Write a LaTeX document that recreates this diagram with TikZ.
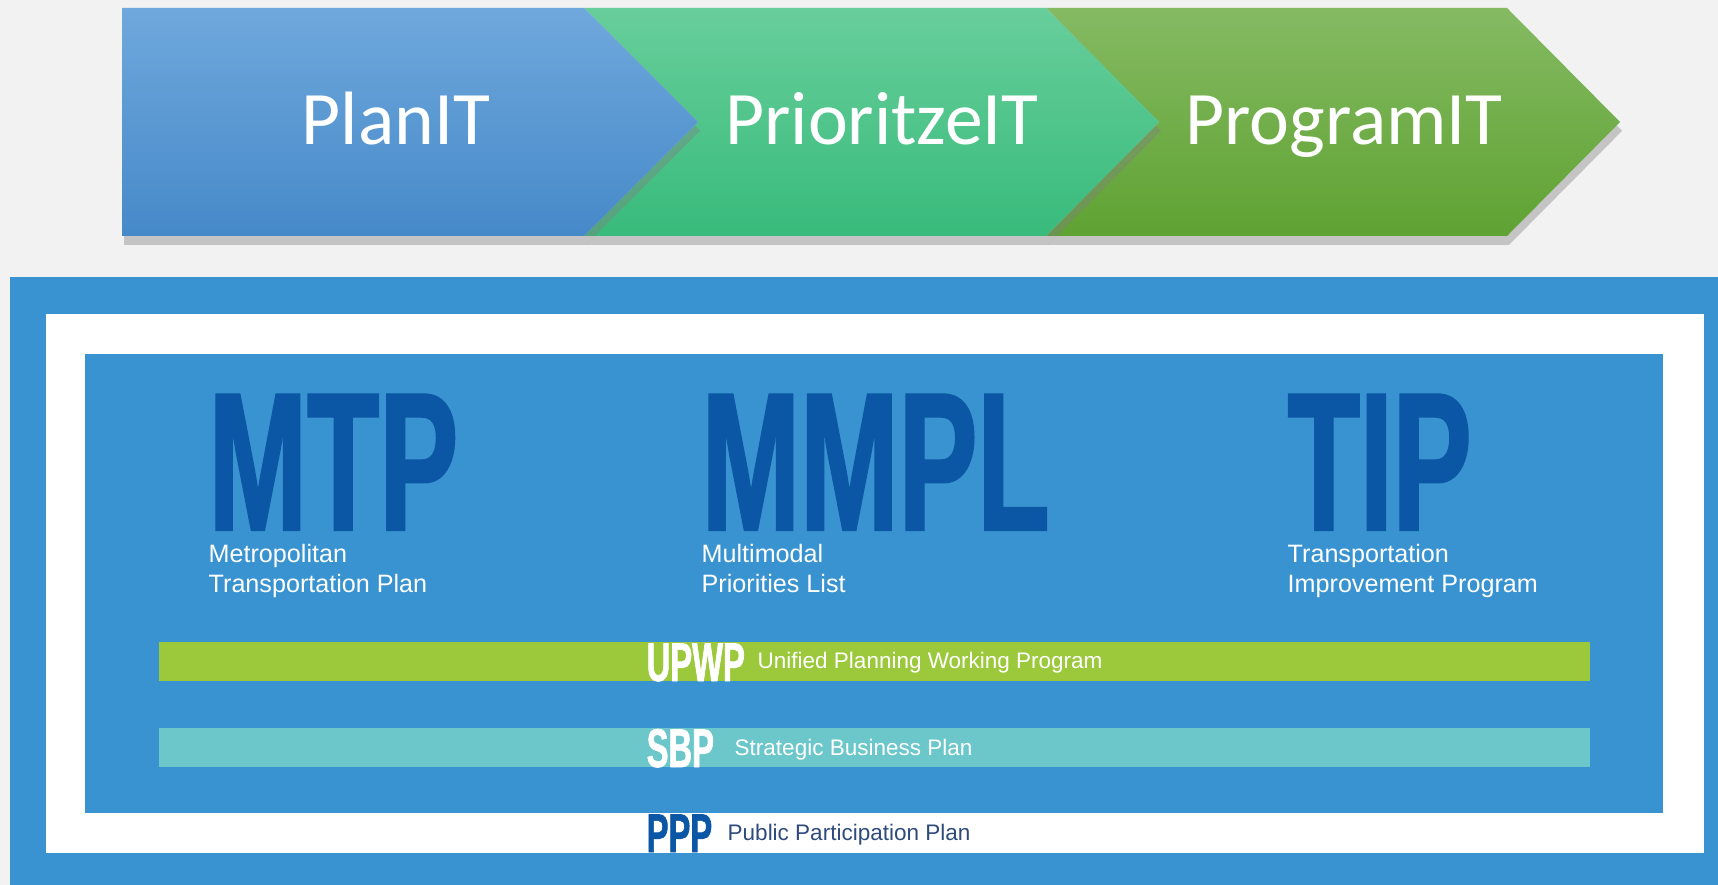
\documentclass[tikz,border=0pt]{standalone}
\usepackage{fontspec}
\usepackage{tikz}
\usetikzlibrary{shadows}
\newfontfamily\chevfont{Carlito}
\newfontfamily\condfont[FakeStretch=0.6,FakeBold=1.2]{Liberation Sans}
\newfontfamily\subfont{Liberation Sans}
\definecolor{pagegray}{HTML}{F2F2F2}
\definecolor{panelblue}{HTML}{3993D0}
\definecolor{inkblue}{HTML}{0B57A5}
\definecolor{pppgray}{HTML}{2E4B7C}
\definecolor{barlime}{HTML}{9BC93B}
\definecolor{barteal}{HTML}{6BC7C9}
\definecolor{planA}{HTML}{6FA8DC}
\definecolor{planB}{HTML}{4689C9}
\definecolor{prioA}{HTML}{68CE9B}
\definecolor{prioB}{HTML}{38BB7C}
\definecolor{progA}{HTML}{85BA63}
\definecolor{progB}{HTML}{5FA232}

\begin{document}
\begin{tikzpicture}[x=0.01cm,y=-0.01cm,
	chevshadow/.style={drop shadow={shadow xshift=0.6pt,shadow yshift=-2.5pt,opacity=.4}},
	chevtext/.style={anchor=base,inner sep=0,text=white,font=\chevfont\fontsize{21.5}{21.5}\selectfont},
	heading/.style={anchor=base west,inner sep=0,text height=40pt,text depth=0pt,text=inkblue,font=\condfont\bfseries\fontsize{56}{56}\selectfont},
	desc/.style={anchor=base west,inner sep=0,text height=5.2pt,text depth=1.2pt,text=white,font=\subfont\fontsize{7.15}{8.5}\selectfont},
	tag/.style={anchor=base west,inner sep=0,font=\condfont\bfseries\fontsize{15.5}{15.5}\selectfont},
	tagtext/.style={anchor=base west,inner sep=0,font=\subfont\fontsize{6.4}{7.5}\selectfont}]
	\useasboundingbox (0,0) rectangle (1718,885);
	\fill[pagegray] (0,0) rectangle (1718,885);
	\fill[panelblue] (10,277) rectangle (1718,885);
	\fill[white] (46,314) rectangle (1704,853);
	\fill[panelblue] (85,354) rectangle (1663,813);
	\fill[barlime] (159,642) rectangle (1590,681);
	\fill[barteal] (159,728) rectangle (1590,767);
	\path[chevshadow,top color=progA,bottom color=progB] (1046,8) -- (1507,8) -- (1620,122) -- (1507,236) -- (1046,236) -- (1159,122) -- cycle;
	\path[chevshadow,top color=prioA,bottom color=prioB] (584,8) -- (1046,8) -- (1159,122) -- (1046,236) -- (584,236) -- (698,122) -- cycle;
	\path[chevshadow,top color=planA,bottom color=planB] (122,8) -- (584,8) -- (698,122) -- (584,236) -- (122,236) -- cycle;
	\node[chevtext] (plan) at (396,145) {PlanIT};
	\node[chevtext] (prioritize) at (882,145) {PrioritzeIT};
	\node[chevtext] (program) at (1344,145) {ProgramIT};
	\foreach \nm/\px/\ab/\la/\lb in {mtp/208/MTP/Metropolitan/Transportation Plan,mmpl/701/MMPL/Multimodal/Priorities List,tip/1287/TIP/Transportation/Improvement Program} {
		\node[heading] (\nm) at (\px,530) {\ab};
		\node[desc] (\nm-a) at (\px,562) {\la};
		\node[desc] (\nm-b) at (\px,592) {\lb};}
	\node[tag,text=white] (upwp) at (646,681) {UPWP};
	\node[tagtext,text=white] (upwp-desc) at (757,668) {Unified Planning Working Program};
	\node[tag,text=white] (sbp) at (646,767) {SBP};
	\node[tagtext,text=white] (sbp-desc) at (734,755) {Strategic Business Plan};
	\node[tag,text=inkblue] (ppp) at (646,852) {PPP};
	\node[tagtext,text=pppgray] (ppp-desc) at (727,840) {Public Participation Plan};
\end{tikzpicture}
\end{document}
